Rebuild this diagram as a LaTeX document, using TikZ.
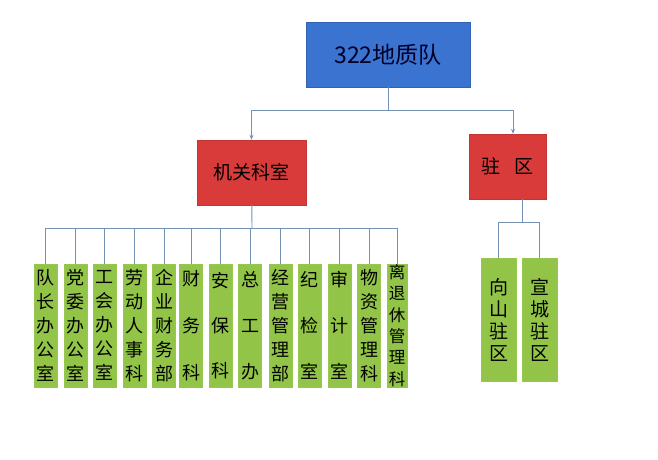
\documentclass[tikz,border=0pt]{standalone}
\usepackage{fontspec}
\setmainfont{Noto Sans CJK SC}
\usetikzlibrary{arrows.meta}
\definecolor{topblue}{HTML}{3B73D0}
\definecolor{midred}{HTML}{D93A3A}
\definecolor{leafgreen}{HTML}{92C447}
\definecolor{linkgray}{HTML}{7391B3}
\tikzset{
  topbox/.style={fill=topblue,draw=topblue!85!black,minimum width=164pt,minimum height=65pt,inner sep=0pt,text=black!85!blue,font=\fontsize{23}{26}\selectfont},
  midbox/.style={fill=midred,draw=midred!90!black,minimum height=65pt,inner sep=0pt,font=\fontsize{19}{22}\selectfont},
  leafbox/.style={fill=leafgreen,draw=leafgreen!95!white,minimum width=23pt,minimum height=123pt,inner sep=0pt,align=center,font=\fontsize{18}{24}\selectfont},
  link/.style={draw=linkgray,line width=0.9pt},
}
\begin{document}
\begin{tikzpicture}[x=1pt,y=-1pt]
\useasboundingbox (0,0) rectangle (658,460);
% top and second level
\node[topbox] (top) at (388,54.5) {322地质队};
\node[midbox,minimum width=109pt] (jg) at (251.5,172.5) {机关科室};
\node[midbox,minimum width=77pt] (zq) at (507.5,166.5) {驻\hspace{14pt}区};
\coordinate (t1) at (388,110);
\draw[link] (top) -- (t1);
\draw[link,-{Stealth[length=5pt,width=4pt]}] (t1) -| (jg.north);
\draw[link,-{Stealth[length=5pt,width=4pt]}] (t1) -| ([xshift=5.5pt]zq.north);
% offices
\foreach \x/\t [count=\i] in {45.5/队\\长\\办\\公\\室, 75.5/党\\委\\办\\公\\室, 104.5/工\\会\\办\\公\\室,
    134.5/劳\\动\\人\\事\\科, 164/企\\业\\财\\务\\部, 191/财\\[23pt]务\\[23pt]科,
    220.5/安\\[21pt]保\\[21pt]科, 250/总\\[22pt]工\\[22pt]办, 280.5/经\\营\\管\\理\\部,
    309.5/纪\\[22pt]检\\[22pt]室, 339.5/审\\[22pt]计\\[22pt]室, 369/物\\资\\管\\理\\科}
  \node[leafbox] (l\i) at (\x,325.5) {\t};
\node[leafbox,minimum width=20pt,font=\fontsize{16.5}{21.4}\selectfont] (l13) at (397,325.5) {离\\退\\休\\管\\理\\科};
\coordinate (b1) at (252,228);
\draw[link] (jg) -- (b1);
\draw[link] (l1.north|-b1) -- (l13.north|-b1);
\foreach \i in {1,...,13}
  \draw[link] (l\i.north|-b1) -- (l\i.north);
% stations
\node[leafbox,minimum width=35pt,font=\fontsize{19}{22}\selectfont] (r1) at (498.5,319.5) {向\\山\\驻\\区};
\node[leafbox,minimum width=35pt,font=\fontsize{19}{22}\selectfont] (r2) at (539.5,319.5) {宣\\城\\驻\\区};
\coordinate (b2) at (522,222);
\draw[link] (b2|-zq.south) -- (b2);
\draw[link] (r1.north|-b2) -- (r2.north|-b2);
\draw[link] (r1.north|-b2) -- (r1.north);
\draw[link] (r2.north|-b2) -- (r2.north);
\end{tikzpicture}
\end{document}
